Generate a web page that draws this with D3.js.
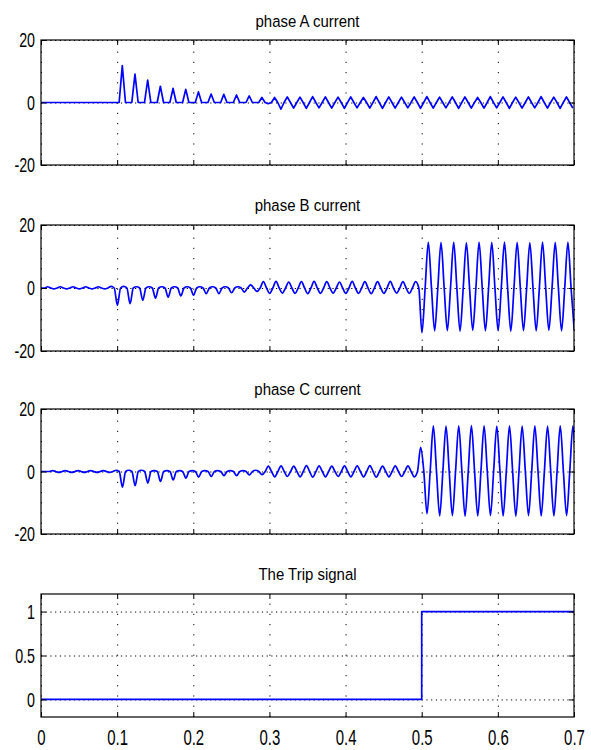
<!DOCTYPE html>
<html>
<head>
<meta charset="utf-8">
<title>Phase currents and trip signal</title>
<script src="https://cdn.jsdelivr.net/npm/d3@7"></script>
<style>
  body { margin: 0; background: #fff; }
  text { font-family: "Liberation Sans", Arial, sans-serif; fill: #000; }
</style>
</head>
<body>
<svg id="chart" width="591" height="750"></svg>
<script>
// sample grid: 60 Hz cycles, each drawn as 0 -> peak -> 0 -> trough
var freq = 60;
var xTicks = [0, 0.1, 0.2, 0.3, 0.4, 0.5, 0.6, 0.7];
var ampTicks = [-20, 0, 20];
var tripTicks = [0, 0.5, 1];

// phase A : per-cycle peak / trough
var aStart = 0.0026;
var aHigh = [0, 0, 0, 0, 0, 0,
  11.8, 9.1, 7.2, 5.2, 4.5, 4.2, 3.4, 2.7, 2.6, 2.4, 2.1, 1.6,
  1.6, 1.8, 1.7, 1.9, 1.8, 1.7, 1.8, 1.6, 1.9, 1.8, 1.7, 1.8,
  1.9, 1.7, 1.8, 1.8, 1.6, 1.9, 1.8, 1.7, 1.8, 1.9, 1.7, 1.8];
var aLow = [0, 0, 0, 0, 0, 0,
  0, 0, 0, 0, 0, 0, 0, 0, 0, 0, 0, -0.4,
  -2.1, -1.8, -1.9, -1.7, -1.8, -1.9, -1.7, -1.8, -1.9, -1.8, -1.7, -1.9,
  -1.8, -1.7, -1.9, -1.8, -1.8, -1.7, -1.9, -1.8, -1.7, -1.8, -1.9, -1.8];

// phase B
var bStart = 0.0045;
var bHigh = [0.4, 0.4, 0.4, 0.4, 0.4, 0.5,
  0.5, 0.4, 0.4, 0.4, 0.4, 0.4, 0.4, 0.4, 0.4, 0.4, 1.0,
  2.0, 2.1, 1.9, 2.0, 2.1, 2.0, 1.9, 2.1, 2.0, 2.0, 2.1, 2.0,
  2.0,
  14.6, 14.5, 14.6, 14.4, 14.6, 14.5, 14.6, 14.5, 14.4, 14.6, 14.5, 14.6];
var bLow = [-0.3, -0.3, -0.3, -0.3, -0.3,
  -5.5, -5.0, -3.9, -3.2, -2.9, -2.5, -2.3, -1.8, -1.8, -1.5, -1.3, -1.1,
  -1.7, -1.6, -1.7, -1.8, -1.7, -1.6, -1.7, -1.7, -1.8, -1.7, -1.6, -1.7,
  -14.2,
  -13.6, -13.5, -13.7, -13.4, -13.6, -13.5, -13.7, -13.5, -13.6, -13.4, -13.6, -13.5];

// phase C
var cStart = 0.0111;
var cHigh = [0.3, 0.3, 0.3, 0.3, 0.3,
  0.4, 0.4, 0.4, 0.3, 0.3, 0.3, 0.3, 0.3, 0.3, 0.3, 0.3, 0.4,
  1.7, 1.8, 1.7, 1.9, 1.8, 1.7, 1.8, 1.8, 1.9, 1.7, 1.8, 1.8,
  7.7,
  14.6, 14.5, 14.6, 14.7, 14.6, 14.5, 14.6, 14.5, 14.6, 14.5, 14.6, 14.6];
var cLow = [-0.3, -0.3, -0.3, -0.3, -0.3,
  -5.0, -4.5, -3.7, -3.2, -2.7, -2.1, -1.8, -1.6, -1.3, -1.3, -1.1, -1.0,
  -1.7, -1.6, -1.7, -1.8, -1.7, -1.6, -1.7, -1.7, -1.8, -1.7, -1.6, -1.7,
  -13.5,
  -14.2, -14.1, -14.3, -14.2, -14.1, -14.2, -14.3, -14.1, -14.2, -14.2, -14.1, -14.2];

// trip signal
var tripTime = [0, 0.5, 0.7];
var tripValue = [0, 1, 1];

function wave(start, high, low) {
  var p = 1 / freq, q = p / 4;
  var pts = [[0, 0]];
  high.forEach(function(h, k) {
    var t = start + k * p;
    pts.push([t, 0], [t + q, h], [t + 2 * q, 0], [t + 3 * q, low[k]]);
  });
  return pts;
}

var svg = d3.select("#chart");
svg.append("rect").attr("width", 591).attr("height", 750).attr("fill", "#fff");

var left = 41, right = 574;
var x = d3.scaleLinear().domain([0, 0.7]).range([left, right]);
var squeeze = 0.68;   // narrow bitmap-like labels

var panels = [
  {title: "phase A current", top: 40, bottom: 165, domain: [-20, 20], ticks: ampTicks, data: wave(aStart, aHigh, aLow), titleY: 27, curve: d3.curveLinear},
  {title: "phase B current", top: 225, bottom: 351, domain: [-20, 20], ticks: ampTicks, data: wave(bStart, bHigh, bLow), titleY: 211, curve: d3.curveMonotoneX},
  {title: "phase C current", top: 409, bottom: 534, domain: [-20, 20], ticks: ampTicks, data: wave(cStart, cHigh, cLow), titleY: 395, curve: d3.curveMonotoneX},
  {title: "The Trip signal", top: 594, bottom: 717, domain: [-0.2, 1.2], ticks: tripTicks,
    data: tripTime.map(function(t, i) { return [t, tripValue[i]]; }), titleY: 580, curve: d3.curveStepAfter, last: true}
];

panels.forEach(function(pn, i) {
  var y = d3.scaleLinear().domain(pn.domain).range([pn.bottom, pn.top]);
  var h = pn.bottom - pn.top, w = right - left;
  var g = svg.append("g");

  // dotted grid
  g.append("g").attr("transform", "translate(0," + pn.bottom + ")")
    .call(d3.axisBottom(x).tickValues(xTicks).tickSize(-h).tickFormat(""))
    .call(function(s) { s.select(".domain").remove(); })
    .selectAll("line").attr("stroke", "#000").attr("stroke-dasharray", "1.2,9");
  g.append("g").attr("transform", "translate(" + left + ",0)")
    .call(d3.axisLeft(y).tickValues(pn.ticks).tickSize(-w).tickFormat(""))
    .call(function(s) { s.select(".domain").remove(); })
    .selectAll("line").attr("stroke", "#000").attr("stroke-dasharray", "1.2,3.5");

  // signal
  var clipId = "clip" + i;
  svg.append("clipPath").attr("id", clipId).append("rect")
    .attr("x", left).attr("y", pn.top).attr("width", w).attr("height", h);
  var line = d3.line()
    .curve(pn.curve)
    .x(function(d) { return x(d[0]); })
    .y(function(d) { return y(d[1]); });
  g.append("path").datum(pn.data)
    .attr("clip-path", "url(#" + clipId + ")")
    .attr("fill", "none").attr("stroke", "#0000ff")
    .attr("stroke-width", 1.7).attr("stroke-linejoin", "round")
    .attr("d", line);

  // inside ticks on all four sides
  [["axisBottom", pn.bottom, x, xTicks, true], ["axisTop", pn.top, x, xTicks, true],
   ["axisLeft", left, y, pn.ticks, false], ["axisRight", right, y, pn.ticks, false]].forEach(function(a) {
    g.append("g")
      .attr("transform", a[4] ? "translate(0," + a[1] + ")" : "translate(" + a[1] + ",0)")
      .call(d3[a[0]](a[2]).tickValues(a[3]).tickSize(-5).tickFormat(""))
      .call(function(s) { s.select(".domain").remove(); })
      .selectAll("line").attr("stroke", "#000");
  });

  // frame
  g.append("rect").attr("x", left).attr("y", pn.top).attr("width", w).attr("height", h)
    .attr("fill", "none").attr("stroke", "#000").attr("stroke-width", 1.2);

  // y labels
  var yl = g.append("g").attr("transform", "translate(" + left + ",0)")
    .call(d3.axisLeft(y).tickValues(pn.ticks).tickSize(0).tickPadding(6 / squeeze)
      .tickFormat(function(d) { return String(d); }));
  yl.select(".domain").remove();
  yl.selectAll("text").style("font-size", "21px").attr("fill", "#000")
    .attr("transform", "scale(" + squeeze + ",1)");

  // x labels on the bottom panel only
  if (pn.last) {
    var xl = g.append("g").attr("transform", "translate(0," + pn.bottom + ")")
      .call(d3.axisBottom(x).tickValues(xTicks).tickSize(0).tickPadding(12)
        .tickFormat(function(d) { return String(d); }));
    xl.select(".domain").remove();
    xl.selectAll("text").style("font-size", "22px").attr("fill", "#000")
      .attr("transform", "scale(" + squeeze + ",1)");
  }

  // title
  g.append("g").attr("transform", "translate(" + ((left + right) / 2) + "," + pn.titleY + ")")
    .append("text").attr("text-anchor", "middle").style("font-size", "17px")
    .attr("transform", "scale(0.88,1)")
    .text(pn.title);
});
</script>
</body>
</html>
